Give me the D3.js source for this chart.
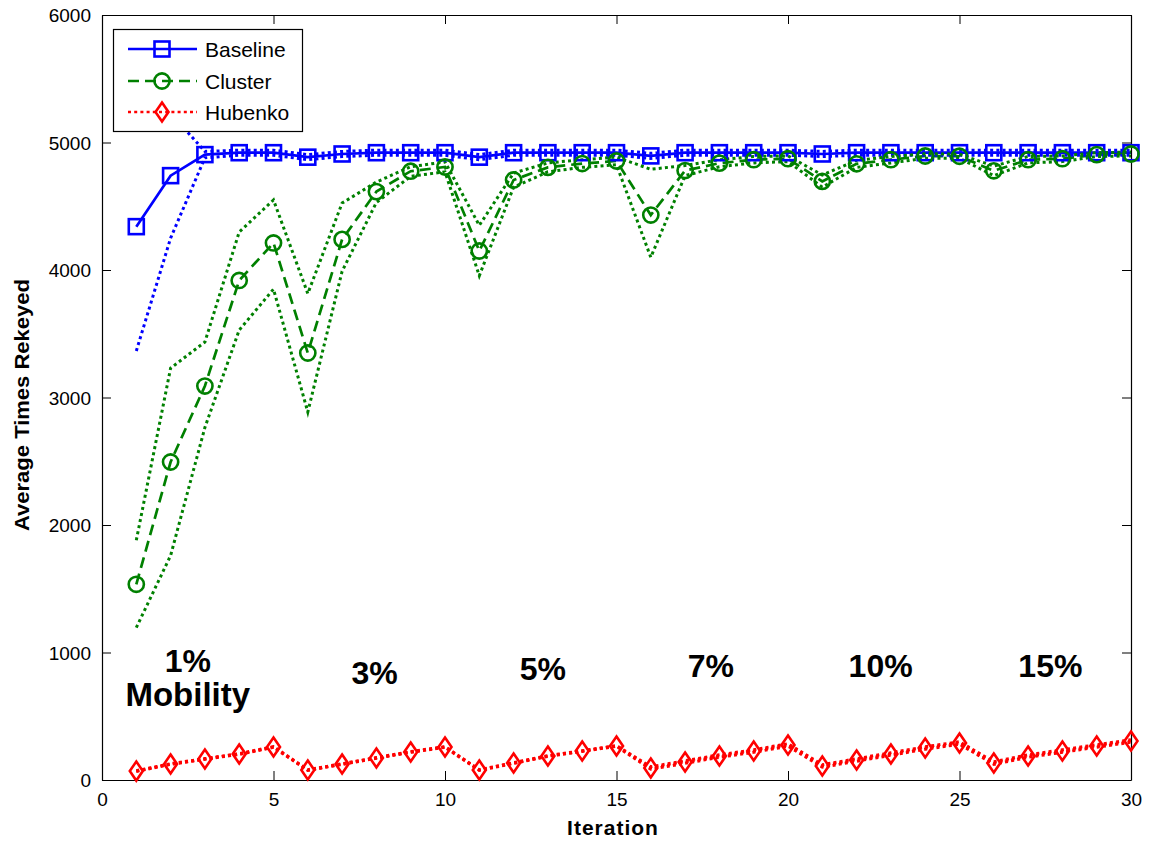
<!DOCTYPE html>
<html><head><meta charset="utf-8">
<script src="https://cdn.jsdelivr.net/npm/d3@7"></script>
<style>body{margin:0;background:#fff}</style>
</head><body>
<svg id="c" width="1151" height="841"></svg>
<script>
// ---------------- data ----------------
const iterations = [1,2,3,4,5,6,7,8,9,10,11,12,13,14,15,16,17,18,19,20,21,22,23,24,25,26,27,28,29,30];

const baseline   = [4340,4740,4905,4920,4920,4885,4910,4920,4920,4920,4885,4920,4920,4920,4920,4895,4920,4920,4920,4920,4910,4920,4920,4920,4920,4920,4920,4920,4920,4920];
const baselineHi = [5320,5230,4930,4940,4940,4905,4930,4940,4940,4940,4905,4940,4940,4940,4940,4915,4940,4940,4940,4940,4930,4940,4940,4940,4940,4940,4940,4940,4940,4940];
const baselineLo = [3365,4250,4880,4900,4900,4865,4890,4900,4900,4900,4865,4900,4900,4900,4900,4875,4900,4900,4900,4900,4890,4900,4900,4900,4900,4900,4900,4900,4900,4900];

const cluster    = [1535,2494,3090,3918,4212,3349,4240,4615,4775,4808,4149,4706,4805,4835,4855,4431,4780,4838,4865,4873,4695,4833,4865,4894,4892,4778,4865,4873,4905,4910];
const clusterHi  = [1880,3230,3435,4298,4549,3815,4525,4690,4810,4848,4350,4760,4840,4865,4885,4790,4820,4865,4890,4895,4745,4860,4890,4912,4908,4815,4890,4895,4920,4925];
const clusterLo  = [1195,1760,2765,3529,3850,2886,3990,4530,4735,4770,3955,4650,4770,4805,4825,4100,4740,4810,4840,4850,4650,4805,4840,4876,4876,4740,4840,4850,4890,4895];

const hubenko    = [70,125,165,204,259,78,125,173,220,259,78,133,188,227,267,94,141,188,227,275,110,157,204,251,290,133,188,227,267,306];
const hubenkoHi  = [73,128,168,207,262,81,128,176,223,262,81,136,191,230,270,104,151,198,237,285,120,167,214,261,300,143,198,237,277,316];
const hubenkoLo  = [67,122,162,201,256,75,122,170,217,256,75,130,185,224,264,84,131,178,217,265,100,147,194,241,280,123,178,217,257,296];

const seriesNames = ["Baseline","Cluster","Hubenko"];
const xTicks = [0,5,10,15,20,25,30];
const yTicks = [0,1000,2000,3000,4000,5000,6000];
const mobilityLabels = ["1%","3%","5%","7%","10%","15%","Mobility"];
const mobilityAnchorX = [2.5,7.95,12.85,17.75,22.7,27.65,2.5];
const mobilityAnchorY = [847,753,784,808,808,808,580];

// ---------------- layout ----------------
const svg = d3.select("#c");
const L = 102, R = 1131, T = 15, B = 780;
const x = d3.scaleLinear().domain([0,30]).range([L,R]);
const y = d3.scaleLinear().domain([0,6000]).range([B,T]);
const FONT = "Liberation Sans, Arial, sans-serif";

svg.append("rect").attr("x",0).attr("y",0).attr("width",1151).attr("height",841).attr("fill","#fff");

const clipId = "plotclip";
svg.append("clipPath").attr("id",clipId).append("rect")
  .attr("x",L).attr("y",T).attr("width",R-L).attr("height",B-T);

// axes with inward ticks
const tl = 9;
const gx = svg.append("g").attr("transform",`translate(0,${B})`)
  .call(d3.axisBottom(x).tickValues(xTicks).tickSizeInner(-tl).tickSizeOuter(0).tickPadding(14).tickFormat(d3.format("d")));
const gxt = svg.append("g").attr("transform",`translate(0,${T})`)
  .call(d3.axisTop(x).tickValues(xTicks).tickSizeInner(-tl).tickSizeOuter(0).tickFormat(""));
const gy = svg.append("g").attr("transform",`translate(${L},0)`)
  .call(d3.axisLeft(y).tickValues(yTicks).tickSizeInner(-tl).tickSizeOuter(0).tickPadding(11).tickFormat(d3.format("d")));
const gyr = svg.append("g").attr("transform",`translate(${R},0)`)
  .call(d3.axisRight(y).tickValues(yTicks).tickSizeInner(-tl).tickSizeOuter(0).tickFormat(""));
[gx,gxt,gy,gyr].forEach(g=>{
  g.select(".domain").attr("stroke","#000").attr("stroke-width",1.2);
  g.selectAll(".tick line").attr("stroke","#000").attr("stroke-width",1);
  g.selectAll("text").attr("font-family",FONT).attr("font-size",19).attr("fill","#000");
});
gx.selectAll("text").attr("dy","0.62em");
gy.selectAll("text").attr("dy","0.36em");

// axis titles
svg.append("text").attr("x",613).attr("y",835).attr("text-anchor","middle")
  .attr("font-family",FONT).attr("font-weight","bold").attr("font-size",21).attr("letter-spacing",1)
  .text("Iteration");
svg.append("text").attr("transform","translate(29,405) rotate(-90)").attr("text-anchor","middle")
  .attr("font-family",FONT).attr("font-weight","bold").attr("font-size",21)
  .attr("textLength",252).attr("lengthAdjust","spacingAndGlyphs")
  .text("Average Times Rekeyed");

// lines
const plot = svg.append("g").attr("clip-path",`url(#${clipId})`);
const line = arr => d3.line().x((d,i)=>x(iterations[i])).y(d=>y(d))(arr);
const DOT = "3,3.2", DASH = "11,6";
function path(arr,color,dash,w){
  plot.append("path").attr("d",line(arr)).attr("fill","none").attr("stroke",color)
    .attr("stroke-width",w).attr("stroke-dasharray",dash||null).attr("stroke-linejoin","miter");
}
const BLUE="#0000ff", GREEN="#008000", RED="#ff0000";

path(baseline,BLUE,null,2.7);
path(cluster,GREEN,DASH,2.7);
path(hubenko,RED,DOT,3);
path(baselineHi,BLUE,DOT,3);
path(baselineLo,BLUE,DOT,3);
path(clusterHi,GREEN,DOT,3);
path(clusterLo,GREEN,DOT,3);
path(hubenkoHi,RED,DOT,3);
path(hubenkoLo,RED,DOT,3);

// markers
function squareAt(g,cx,cy,c){ g.append("rect").attr("x",cx-7.5).attr("y",cy-7.5).attr("width",15).attr("height",15)
  .attr("fill","none").attr("stroke",c).attr("stroke-width",2.6); }
function circleAt(g,cx,cy,c){ g.append("circle").attr("cx",cx).attr("cy",cy).attr("r",7.6)
  .attr("fill","none").attr("stroke",c).attr("stroke-width",2.6); }
function diamondAt(g,cx,cy,c){ g.append("path").attr("d",`M${cx},${cy-9.5}L${cx+6.5},${cy}L${cx},${cy+9.5}L${cx-6.5},${cy}Z`)
  .attr("fill","none").attr("stroke",c).attr("stroke-width",2.6); }
const mk = svg.append("g");
baseline.forEach((v,i)=>squareAt(mk,x(iterations[i]),y(v),BLUE));
cluster.forEach((v,i)=>circleAt(mk,x(iterations[i]),y(v),GREEN));
hubenko.forEach((v,i)=>diamondAt(mk,x(iterations[i]),y(v),RED));

// annotations
mobilityLabels.forEach((t,i)=>{
  svg.append("text").attr("x",x(mobilityAnchorX[i])).attr("y",y(mobilityAnchorY[i]))
    .attr("text-anchor","middle").attr("font-family",FONT).attr("font-weight","bold")
    .attr("font-size",i===6?33:32).text(t);
});

// legend
const lg = svg.append("g");
lg.append("rect").attr("x",113.5).attr("y",29.5).attr("width",189).attr("height",102)
  .attr("fill","#fff").attr("stroke","#000").attr("stroke-width",1.2);
const lgY = [49,81,112];
const lgStyle = [[BLUE,null,squareAt],[GREEN,DASH,circleAt],[RED,DOT,diamondAt]];
seriesNames.forEach((n,i)=>{
  const [c,dash,fn] = lgStyle[i];
  lg.append("line").attr("x1",128).attr("x2",197).attr("y1",lgY[i]).attr("y2",lgY[i])
    .attr("stroke",c).attr("stroke-width",2.7).attr("stroke-dasharray",dash||null);
  fn(lg,162,lgY[i],c);
  lg.append("text").attr("x",205).attr("y",lgY[i]).attr("dy","0.36em")
    .attr("font-family",FONT).attr("font-size",21).text(n);
});
</script>
</body></html>
